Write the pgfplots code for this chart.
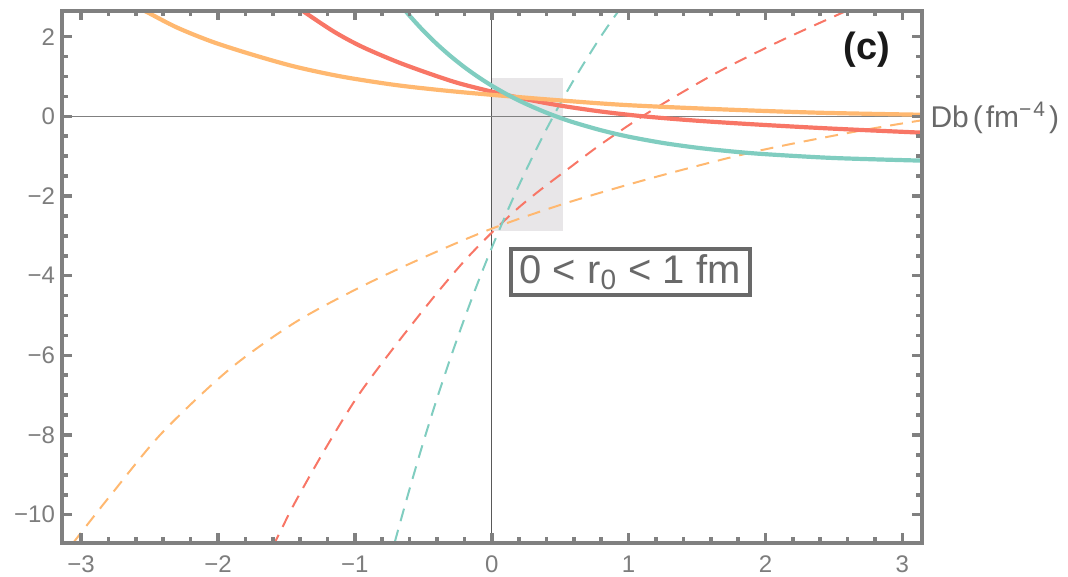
\documentclass[border=0pt]{standalone}
\usepackage{fontspec}
\setmainfont{Liberation Sans}
\usepackage{pgfplots}
\pgfplotsset{compat=1.18}
\definecolor{frm}{RGB}{128,128,128}
\definecolor{tl}{RGB}{125,125,125}
\definecolor{cO}{RGB}{255,184,112}
\definecolor{cR}{RGB}{248,118,102}
\definecolor{cT}{RGB}{128,205,192}
\definecolor{shade}{RGB}{232,230,232}
\definecolor{lbl}{RGB}{105,105,105}
\begin{document}
\begin{tikzpicture}
\begin{axis}[
  at={(0,0)}, anchor=south west,
  scale only axis, width=430pt, height=266pt,
  xmin=-3.14, xmax=3.14, ymin=-10.7, ymax=2.65,
  axis on top,
  clip mode=individual,
  axis line style={line width=2pt, draw=frm},
  xtick={-3,-2,-1,0,1,2,3}, xticklabels={−3,−2,−1,0,1,2,3},
  ytick={-10,-8,-6,-4,-2,0,2}, yticklabels={−10,−8,−6,−4,−2,0,2},
  minor x tick num=4, minor y tick num=3,
  tick align=inside,
  major tick length=4.8pt, minor tick length=2.8pt,
  every tick/.style={line width=1.8pt, draw=frm},
  ticklabel style={font=\fontsize{12}{12}\selectfont, text=tl},
  xticklabel style={yshift=-3pt},
]
% shaded region
\addplot[draw=none, fill=shade] coordinates {(0,-2.89) (0.52,-2.89) (0.52,0.97) (0,0.97)} -- cycle;
% axes through origin
\addplot[black!65, line width=0.6pt] coordinates {(0,-10.7) (0,2.65)};
\addplot[black!50, line width=0.6pt] coordinates {(-3.14,0) (3.14,0)};
% dashed curves
\addplot[cO, line width=1pt, dash pattern=on 6.5pt off 4.5pt, smooth] coordinates {
(-3.06,-10.72) (-3.0,-10.45) (-2.77,-9.45) (-2.41,-7.95) (-1.92,-6.36) (-1.44,-5.18) (-0.95,-4.27) (-0.47,-3.5) (0,-2.82) (0.55,-2.17) (1.21,-1.51) (1.93,-0.88) (2.66,-0.38) (3.14,-0.1)};
\addplot[cR, line width=1pt, dash pattern=on 6.5pt off 4.5pt, smooth] coordinates {
(-1.60,-10.8) (-1.55,-10.46) (-1.44,-9.71) (-1.22,-8.37) (-0.98,-7.03) (-0.71,-5.78) (-0.42,-4.52) (-0.2,-3.63) (0,-2.92) (0.2,-2.28) (0.38,-1.78) (0.55,-1.34) (0.79,-0.72) (1.1,0.0) (1.4,0.62) (1.69,1.18) (2.1,1.88) (2.56,2.6) (2.66,2.75)};
\addplot[cT, line width=1pt, dash pattern=on 6.5pt off 4.5pt, smooth] coordinates {
(-0.75,-11.23) (-0.7,-10.58) (-0.6,-9.35) (-0.5,-8.18) (-0.4,-7.08) (-0.3,-6.05) (-0.2,-5.08) (-0.1,-4.16) (0,-3.30) (0.1,-2.49) (0.2,-1.72) (0.3,-1.00) (0.4,-0.32) (0.5,0.32) (0.6,0.92) (0.7,1.48) (0.8,2.02) (0.9,2.52) (1.0,2.99)};
% solid curves
\addplot[cR, line width=2.1pt, smooth] coordinates {
(-1.42,2.75) (-1.37,2.62) (-1.15,2.12) (-0.95,1.75) (-0.7,1.38) (-0.47,1.09) (-0.25,0.84) (0,0.62) (0.25,0.43) (0.5,0.27) (0.8,0.12) (1.11,0.0) (1.5,-0.11) (1.96,-0.21) (2.5,-0.31) (3.14,-0.41)};
\addplot[cO, line width=2.1pt, smooth] coordinates {
(-2.62,2.8) (-2.52,2.62) (-2.3,2.23) (-2.04,1.87) (-1.75,1.55) (-1.44,1.25) (-1.1,1.0) (-0.71,0.79) (-0.35,0.65) (0,0.54) (0.5,0.40) (1.0,0.28) (1.72,0.17) (2.4,0.09) (3.14,0.04)};
\addplot[cT, line width=2.1pt, smooth] coordinates {
(-0.7,2.94) (-0.65,2.73) (-0.6,2.525) (-0.5,2.149) (-0.4,1.812) (-0.3,1.508) (-0.2,1.235) (-0.1,0.990) (0,0.77) (0.1,0.572) (0.2,0.394) (0.3,0.235) (0.4,0.091) (0.5,-0.038) (0.6,-0.154) (0.8,-0.351) (1.0,-0.511) (1.25,-0.668) (1.5,-0.788) (1.75,-0.880) (2.0,-0.950) (2.5,-1.046) (3.14,-1.112)};
% labels
\node[draw=lbl, line width=2pt, fill=white, text=lbl, inner xsep=4.5pt, inner ysep=2.5pt, font=\fontsize{20}{20}\selectfont] at (axis cs:1.01,-3.91) {0 < r\textsubscript{0} < 1 fm};
\node[font=\fontsize{19}{19}\selectfont\bfseries, text=black!90] at (axis cs:2.74,1.67) {(c)};
\node[anchor=base west, inner sep=0pt, xshift=4.3pt, text=lbl, font=\fontsize{15}{15}\selectfont] at (axis cs:3.14,-0.27) {Db\hspace{2pt}(\hspace{1.5pt}fm\textsuperscript{−\hspace{1pt}4}\hspace{1.5pt})};
\end{axis}
\pgfresetboundingbox
\path[use as bounding box] (-31pt,-16.85pt) rectangle (503.25pt,271.4pt);
\end{tikzpicture}
\end{document}
